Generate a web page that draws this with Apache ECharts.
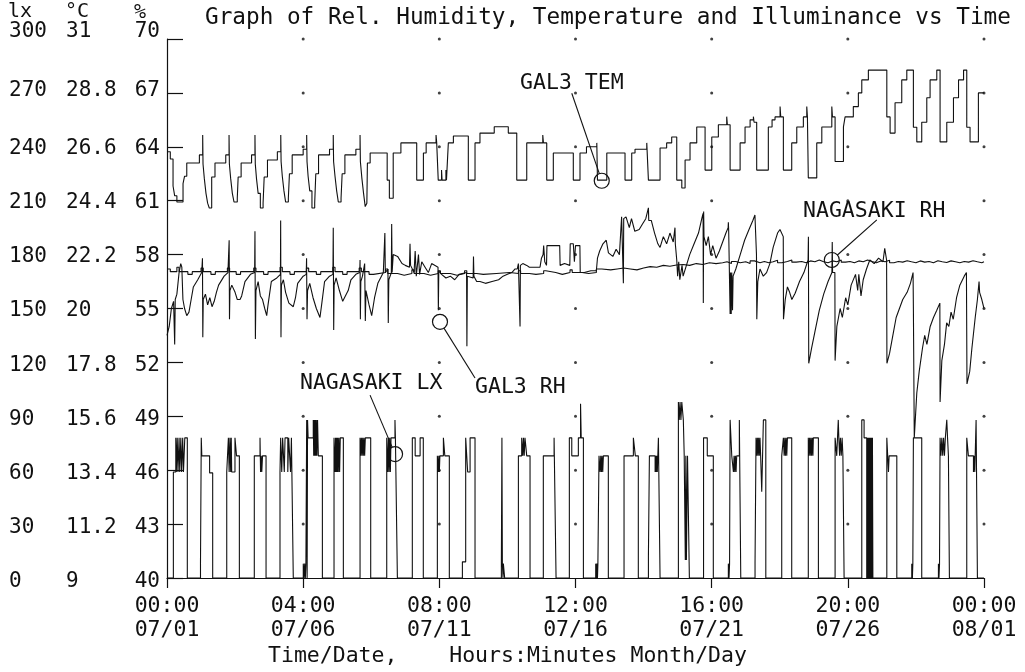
<!DOCTYPE html>
<html><head><meta charset="utf-8">
<script src="https://cdn.jsdelivr.net/npm/echarts@6/dist/echarts.min.js"></script>
<style>html,body{margin:0;padding:0;background:#fff}#c{width:1025px;height:672px}</style>
</head><body><div id="c"></div>
<script>
// ---------- axis ticks / labels ----------
const xTickHours = [0,124,248,372,496,620,744];
const xTickTimes = ['00:00','04:00','08:00','12:00','16:00','20:00','00:00'];
const xTickDates = ['07/01','07/06','07/11','07/16','07/21','07/26','08/01'];
const pctLabels = ['40','43','46','49','52','55','58','61','64','67','70'];
const degLabels = ['9','11.2','13.4','15.6','17.8','20','22.2','24.4','26.6','28.8','31'];
const lxLabels  = ['0','30','60','90','120','150','180','210','240','270','300'];

// ---------- series: [hour since 07/01 00:00, value] ----------
// GAL3 temperature, degC
const galTem = [
[0,26.4],[3,26.1],[5.5,25.0],[7,24.6],[9,24.35],[14.6,25.1],[16,25.4],[18,25.94],
[29.5,26.27],[32.5,27.08],[32.8,25.9],[34,25.3],[35.5,24.7],[37,24.3],[38.5,24.1],[40.7,25.37],[43.7,25.94],
[53.5,26.27],[56.5,27.08],[56.8,25.9],[58,25.3],[59.5,24.7],[61,24.35],[64,24.5],[64.8,25.37],[67.5,25.94],
[77,26.27],[80.1,27.08],[80.4,25.9],[81.5,25.3],[83,24.7],[85,24.1],[87.5,24.3],[88.5,25.37],[91.5,26.06],
[100.5,26.4],[103.6,27.08],[103.9,26.0],[105,25.4],[106.5,24.8],[108,24.35],[110.5,24.5],[111.5,25.5],[114,26.27],
[124,26.5],[127.2,27.08],[127.5,26.0],[128.5,25.4],[130,24.8],[132,24.1],[134.5,24.3],[135.5,25.5],[138,26.27],
[148,26.5],[151.4,27.08],[151.7,26.0],[153,25.4],[154.5,24.8],[156,24.35],[158.5,24.5],[159.5,25.5],[162,26.27],
[172,26.5],[175.8,27.08],[176.1,26.0],[177.5,25.3],[179,24.7],[180.5,24.16],[182,24.3],[182.5,25.94],[185,26.35],
[200.5,25.24],[202.5,24.5],[206,26.35],[213,26.76],
[227.4,25.24],[233.5,26.35],[236,26.76],
[245,27.08],[245.6,26.76],[247,25.24],[250,25.65],[250.5,25.24],[254,25.65],[254.5,25.24],[256.2,26.76],[260.8,27.04],
[274.4,25.24],[280.5,26.76],[285,27.16],
[298,27.42],
[310.8,27.16],[318.5,25.24],[327.6,26.76],
[342.2,27.08],[342.8,26.76],[345.8,25.24],[351.8,26.35],
[370,25.24],[376.1,26.35],[382,26.6],
[391.4,26.76],[392,25.24],[400.5,26.35],
[417.1,25.24],[423.2,26.35],[426.2,26.5],
[436.9,26.76],[438.4,25.24],[449,26.55],[455,26.76],[459.6,27.0],
[464.2,25.24],[468.8,24.92],[471.8,26.06],[476.3,26.76],[482.4,27.41],
[490,25.65],[496.1,27.0],[502.1,27.5],
[509.7,27.83],[510.3,27.5],[512.8,25.65],[521.9,26.76],[526.4,27.41],[531,27.7],
[534,27.83],[534.6,27.6],[537,25.65],[547.6,27.41],[551,27.7],
[553.7,27.82],[558.3,28.24],[558.9,27.82],[561.3,25.65],[568.9,26.76],[573.5,27.41],[579.5,27.82],
[582.6,28.24],[583.2,27.82],[584,25.33],[591.7,26.76],[596.3,27.41],[605.4,28.24],
[606,27.82],[608.4,26.0],[616,27.41],[617.5,27.82],[625,28.24],[629.6,28.8],[632.7,29.33],[638.7,29.73],
[655.5,27.82],[658.5,27.16],[663,28.4],[669.1,29.33],[673.7,29.73],
[679.7,27.4],[682.8,26.8],[687.3,27.6],[691.9,28.6],[694.9,29.33],[701,29.73],
[704,26.8],[710.1,27.6],[716.2,28.6],[720.8,29.33],[725.4,29.73],
[728.3,27.4],[731.3,26.8],[738.9,28.8],[744,28.8]
];

// GAL3 relative humidity, %
const galRh = [
[0,53.5],[2,54.0],[4,55.0],[6,55.4],[7,53.0],[7.5,55.5],[9,55.8],[11,57.0],[12.5,57.5],[13.5,57.3],[14.5,55.5],[16,55.0],[18,54.6],[20,54.8],[22,55.5],
[24,56.2],[28,56.6],[31.6,57.0],[32.3,57.8],[32.6,53.4],[33,55.5],[35,55.8],[37,55.2],[39,55.6],[41,55.1],[43,55.4],[45,55.9],[47,56.3],
[52,56.8],[55.5,57.0],[56.6,58.8],[56.9,54.4],[57.3,56.0],[59,56.3],[62,55.9],[64,55.5],[66.5,55.5],[68,55.7],[71,56.5],
[76,56.9],[79.8,57.0],[80.1,59.3],[80.5,53.3],[81,56.0],[83,56.5],[85,55.7],[87,55.5],[89,55.0],[90.8,54.6],[92,55.2],[95,56.5],
[100,56.7],[103.3,56.9],[103.5,59.9],[103.8,53.4],[104.2,56.3],[106,56.6],[108,55.9],[111,55.3],[115,55.1],[117,55.6],[119,56.4],
[124,56.8],[126.8,56.9],[127.1,57.8],[127.5,54.4],[128,56.0],[130,56.4],[133,55.6],[136,55.0],[139.3,54.5],[141,55.3],[143.5,56.5],
[148,56.8],[151.1,56.9],[151.4,59.5],[151.8,53.8],[152.2,56.3],[154,56.7],[157,56.0],[160,55.4],[163.7,55.85],[165,56.0],[167.5,56.6],
[172,56.9],[175.5,57.0],[175.8,57.7],[176.1,54.4],[176.5,56.5],[178,56.8],[180,57.5],[180.6,54.3],[181.2,56.0],[184,55.2],[186.4,54.6],[189,55.6],[192,56.4],
[197,57.0],[198.4,59.2],[198.8,57.0],[201.2,57.2],[201.5,54.2],[202,56.6],[204.3,57.0],[204.6,59.7],[205,57.0],[206,58.0],[210,57.9],[214,57.5],[217,57.4],
[220.8,57.3],[221.3,58.6],[221.8,57.4],[225,57.0],[226,58.2],[227,56.8],[229,58.0],[230,56.9],[232,57.6],[235,57.3],[238,57.0],[241,57.5],
[246.8,57.3],[247.1,54.9],[247.5,57.1],[250,56.9],[254,56.7],[258,56.8],[262,56.6],
[266,56.9],[272.8,57.0],[273.1,52.9],[273.5,56.8],[278.8,56.7],[279.1,57.9],[279.5,56.8],[282,56.5],
[285,56.5],[290,56.4],[296,56.5],[302,56.6],[306,56.8],[310,56.9],[314,57.0],[317,57.2],
[319,57.2],[320,57.5],[321.3,57.5],[321.5,54.0],[321.8,57.4],[324,57.5],[327.6,57.4],[330,57.3],[336,57.3],
[339.7,57.3],[341,57.8],[342.5,58.0],[343,58.5],[344,57.6],[345.6,57.4],[346,58.5],[357.6,58.5],[358,57.4],[362,57.5],
[366.8,57.4],[367.2,58.6],[370,58.6],[371,57.6],[372,58.5],[376,58.5],[376.3,57.0],[380,57.0],[386,57.1],
[391,57.1],[392,57.8],[394,58.2],[397,58.6],[400,58.8],[402,58.1],[406,57.9],[409,58.3],[412,58.0],[414,60.1],[415.3,60.0],[415.6,56.4],[415.9,60.0],
[418,60.1],[421,59.5],[423,60.0],[426,59.3],[430,59.4],[433,59.7],[436,60.0],[438.4,60.6],[438.7,59.9],
[441,59.9],[444,59.2],[447,58.6],[449,58.4],[452,59.0],[455,58.6],[458,59.2],[461,58.7],[462.6,59.5],[462.9,58.6],
[464.2,57.7],[465,56.8],[466,57.6],[467,56.6],[469,57.4],[470,56.8],[473,57.4],[476,58.0],[480,58.6],[484,59.2],[487,60.0],[488.2,60.3],
[488.4,55.3],[488.7,60.4],[489,59.0],[491,58.5],[493,59.0],[495,58.0],[497,58.5],[500,57.8],[503,58.2],[506,58.7],[509,59.2],[511,59.5],[511.2,59.8],[511.5,59.3],[512.8,54.7],[513.2,57.0],[513.8,54.7],[514.3,57.0],[515,54.9],[515.5,56.8],
[518,57.2],[522,58.0],[526,58.8],[530,59.4],[533.5,59.9],[535.4,60.2],[536.8,58.0],[537.1,54.4],[538,56.5],[540,57.2],[543,56.8],[546,57.0],
[549,57.5],[552,58.4],[556,59.2],
[558.2,59.4],[561.2,59.0],[561.4,54.4],[563,55.5],[565,56.2],[567,55.9],[569,55.5],[572,55.85],[576,56.5],[580,57.0],[583.8,57.7],
[584.1,59.0],[584.4,51.95],[587,52.8],[590,53.7],[594,54.9],[598,55.8],[602,56.5],[605.5,57.0],
[605.8,58.7],[606.1,57.0],[608.2,57.0],[608.4,52.1],[610,54.0],[613,55.0],[615,54.5],[618,55.6],[620,55.2],[623,56.3],[627,56.9],
[629,56.0],[630,56.9],[632,55.7],[634,56.6],[637,57.2],[640,57.7],[644,57.5],[648,57.8],[652,57.6],[653.6,58.35],[655.3,57.7],
[655.6,51.95],[658,52.5],[661,53.5],[664,54.5],[667,55.0],[670,55.5],[674,55.9],[677,56.4],[679.4,57.0],
[679.7,55.0],[680.5,47.8],[682.8,50.3],[685,51.5],[688,52.8],[690,53.5],[692,53.0],[695,54.0],[698,54.5],[701,54.9],[703.8,55.3],
[704,49.8],[705.6,52.1],[708,53.0],[710,54.2],[712,54.0],[714,54.8],[716,54.4],[719,55.6],[722,56.3],[726,56.8],[728,57.0],
[728.5,50.8],[731,51.5],[733,52.8],[736,54.5],[738,55.5],[739.5,56.5],[740,55.9],[742,55.5],[744,55.0]
];

// NAGASAKI relative humidity, %
const nagRh = [
[0,57.2],[3,57.05],[9,57.3],[11,57.05],[19,56.9],[23,57.05],
[31,57.25],[33,57.05],[40,56.9],[44,57.05],
[55,57.25],[57,57.05],[63,56.9],[67,57.05],
[79,57.25],[81,57.05],[88,56.9],[92,57.05],
[103,57.3],[105,57.05],[112,56.9],[116,57.05],
[127,57.25],[129,57.05],[136,56.9],[140,57.05],
[151,57.3],[153,57.05],[160,56.9],[164,57.05],
[175,57.25],[177,57.05],[184,56.9],[188,57.0],
[199,57.2],[201,56.95],[210,56.85],[216,56.95],
[223,57.15],[225,56.95],[234,56.85],[240,56.95],
[247,57.1],[249,56.95],[258,56.85],[264,56.95],
[271,57.1],[273,56.95],[282,56.9],[288,56.95],
[300,57.0],[312,56.95],[320,57.1],[322,56.95],[330,56.9],[336,56.95],
[343,57.1],[345,57.0],[354,56.9],[360,57.0],
[367,57.15],[369,57.0],[378,56.95],[384,57.0],
[391,57.2],[396,57.15],[404,57.2],[410,57.25],[416,57.2],[422,57.15],[428,57.25],[434,57.33],[440,57.3],[446,57.4],[452,57.35],[458,57.42],[464,57.45],[470,57.4],[476,57.5],[482,57.45],[488,57.55],[494,57.5],[500,57.55],[506,57.6],[510,57.5],[514,57.62],[518,57.55],[522,57.6],[527,57.5],[531,57.65],[535,57.55],[540,57.62],[544,57.55],[548,57.6],[552,57.68],[556,57.55],[560,57.62],[565,57.7],[569,57.58],[573,57.62],[578,57.55],[582,57.65],[586,57.6],[590,57.7],[594,57.6],[598,57.55],[602,57.65],[606,57.6],[610,57.7],[614,57.58],[618,57.62],[622,57.55],[626,57.65],[630,57.6],[634,57.7],[638,57.62],[642,57.55],[646,57.65],[650,57.6],[654,57.68],[658,57.55],[662,57.62],[666,57.58],[670,57.66],[674,57.6],[678,57.55],[682,57.65],[686,57.58],[690,57.62],[694,57.55],[698,57.66],[702,57.6],[706,57.56],[710,57.65],[714,57.6],[718,57.55],[722,57.62],[726,57.58],[730,57.66],[734,57.6],[738,57.55],[742,57.6],[744,57.6]
];

// NAGASAKI illuminance, lx
const nagLx = [
[0,0],[5.8,59],[8,78],[8.5,59],[9.3,78],[10,59],[11,78],[11.6,59],[12.6,78],[13.3,59],[14.3,78],[15,59],[16.2,78],[18.5,0],
[30.5,8],[31.2,78],[31.7,68],[38.8,58.5],[41.6,0],
[54.4,59],[55.9,78],[56.6,59],[57.3,78],[58,59],[58.5,78],[58.9,59],[61.9,78],[63.3,68],[65.9,0],
[79.5,68],[84.7,78],[85.2,59],[85.8,68],[86.3,59],[87,68],[90.2,0],
[102.9,59],[103.5,78],[104.5,59],[105.3,78],[106.8,59],[107.5,78],[110,59],[110.8,78],[112.5,59],[113.3,78],[115,0],
[124.1,8],[124.8,0],[125.4,8],[126,0],[126.5,8],[127.2,88],[127.6,0],[128,88],[128.5,78],[133.2,88],[133.6,68],[134,88],[134.5,68],[135,88],[135.5,68],[136,88],[136.5,68],[137.1,88],[137.8,68],[141.5,0],
[152.1,78],[153,59],[153.5,78],[154,59],[154.5,78],[155,59],[155.5,78],[156,59],[156.6,78],[157.2,59],[157.8,78],[160.6,0],
[175.8,78],[176.4,68],[177,78],[177.6,68],[178.2,78],[178.8,68],[179.4,78],[180,68],[180.6,78],[185.5,0],
[200.1,78],[201,59],[201.6,78],[202.2,59],[202.8,78],[203.4,59],[204,78],[207.6,88],[208,78],[209.8,0],
[223.4,78],[226,68],[230.5,78],[233.4,0],
[246.2,68],[247,59],[247.5,68],[248,59],[248.5,68],[251.7,78],[253,68],[257.1,0],
[269,9],[272,78],[273.8,59],[276,78],[280.5,0],
[304.5,8],[305,78],[305.4,8],[306,0],[306.3,8],[307.5,0],
[320,68],[323,78],[324,68],[324.6,78],[325.3,68],[326,78],[327.6,68],[330.6,0],
[342.7,68],[352.5,78],[354.3,0],
[366.4,78],[368.6,68],[374.6,78],[376.6,97],[377.2,78],[379.2,0],
[390.4,8],[391,0],[391.5,8],[392,0],[392.4,8],[393.4,68],[394.4,59],[395,68],[395.6,59],[396.2,68],[396.8,59],[397.4,68],[401.9,0],
[416.2,68],[424.7,78],[426.5,68],[429.2,0],
[438.4,12],[439.3,68],[444.5,59],[445,68],[445.5,59],[446,68],[446.5,59],[447.5,78],[449,0],
[465.7,98],[466.5,88],[467.2,98],[468,88],[468.8,98],[470.2,88],[471,68],[472,10],[472.5,68],[473,10],[474,68],[475.7,0],
[488.6,78],[492,68],[497.5,0],
[511.2,8],[511.8,0],[512.3,8],[512.8,88],[514.3,68],[515.8,59],[516.4,68],[517,59],[517.6,68],[518.2,59],[518.8,68],[521.2,88],[522.5,0],
[535.5,8],[536.4,78],[537,68],[537.6,78],[538.2,68],[538.8,78],[539.4,68],[540,78],[540.6,68],[541.6,48],[543.1,88],[545.3,0],
[559.8,68],[561.3,78],[562,68],[562.6,78],[563.2,68],[563.8,78],[564.4,68],[565,78],[568.9,0],
[584,78],[584.6,68],[585.2,78],[585.8,68],[586.4,78],[587,68],[587.6,78],[588.2,68],[588.6,78],[593.2,0],
[608.4,78],[609.9,68],[610.6,78],[611.3,88],[611.8,78],[612.5,68],[613.2,78],[614,68],[614.8,78],[615.5,68],[616.6,0],
[632.7,88],[634.8,78],[637.2,0],[637.6,78],[638,0],[638.4,78],[638.8,0],[639.2,78],[639.6,0],[640,78],[640.4,0],[640.8,78],[641.2,0],[641.6,78],[642,0],[642.4,78],[642.8,0],
[655.5,78],[657,59],[657.6,68],[664.6,0],
[678.2,8],[678.8,0],[679.2,8],[679.7,78],[687.3,0],
[702.5,8],[703,0],[703.5,8],[704,78],[704.8,68],[705.6,78],[706.4,68],[707.2,78],[708,68],[708.8,78],[710.1,88],[710.8,78],[711.6,68],[712.5,0],
[728.3,78],[729.8,68],[734.4,59],[735,68],[735.6,59],[736.8,88],[738,0],[744,0]
];

// ---------- annotations (label text, anchors in [hour, %]) ----------
const annotText   = ['GAL3 TEM','NAGASAKI RH','GAL3 RH','NAGASAKI LX'];
const annotTextAt = [[321.5,67.5],[579.2,60.43],[280.5,50.63],[121.1,50.85]];
const annotLineAt = [[368.6,66.98],[646.4,59.93],[280.5,51.13],[184.9,50.18]];
const annotRingAt = [[395.9,62.11],[605.4,57.70],[248.6,54.26],[207.7,46.9]];

// ---------- chart ----------
const FONT = '"DejaVu Sans Mono","Liberation Mono",monospace';
const INK = '#111';
const chart = echarts.init(document.getElementById('c'), null, {renderer:'canvas'});

const dots = [];
for (let i = 1; i < xTickHours.length; i++)
  for (let j = 1; j < pctLabels.length; j++) dots.push([xTickHours[i], j]);

const lineBase = {type:'line', xAxisIndex:0, showSymbol:false, symbol:'none', silent:true,
  lineStyle:{color:INK, width:1.1}, emphasis:{disabled:true}};
const labStyle = {fontFamily:FONT, fontSize:21, color:INK};
const labelAxis = (data, offset, align, margin) => ({
  type:'category', gridIndex:1, position:'left', offset:offset, data:data, boundaryGap:false,
  axisLine:{show:false}, axisTick:{show:false}, splitLine:{show:false},
  axisLabel:{interval:0, align:align, margin:margin, fontFamily:FONT, fontSize:21, color:INK,
    formatter:function(v, i){ return i === data.length - 1 ? '{t|' + v + '}' : (i === data.length - 2 ? '{u|' + v + '}' : v); },
    rich:{t:Object.assign({padding:[0,0,16,0]}, labStyle), u:Object.assign({padding:[0,0,8,0]}, labStyle)}}
});

chart.setOption({
  animation:false,
  backgroundColor:'#fff',
  grid:[
    {left:167, top:39, width:817, height:539, outerBoundsMode:'none', containLabel:false},
    {left:167, top:40, width:10, height:542, outerBoundsMode:'none', containLabel:false}
  ],
  xAxis:[
    {type:'value', gridIndex:0, min:0, max:744, interval:124,
     axisLine:{show:true, lineStyle:{color:INK, width:1.2}},
     axisTick:{show:true, length:10, lineStyle:{color:INK, width:1.2}},
     splitLine:{show:false},
     axisLabel:{formatter:function(v){const i = xTickHours.indexOf(v); return i < 0 ? '' : xTickTimes[i] + '\n' + xTickDates[i];},
       fontFamily:FONT, fontSize:21.5, lineHeight:24, color:INK, margin:16, showMinLabel:true, showMaxLabel:true}},
    {type:'value', gridIndex:1, min:0, max:1, show:false}
  ],
  yAxis:[
    {type:'value', gridIndex:0, min:0, max:10, interval:1,
     axisLine:{show:true, lineStyle:{color:INK, width:1.2}},
     axisTick:{show:true, inside:true, length:16, lineStyle:{color:INK, width:1.2}},
     axisLabel:{show:false}, splitLine:{show:false}},
    {type:'value', gridIndex:0, min:40, max:70, show:false},
    {type:'value', gridIndex:0, min:9, max:31, show:false},
    {type:'value', gridIndex:0, min:0, max:300, show:false},
    labelAxis(pctLabels, 0, 'right', 7),
    labelAxis(degLabels, 101, 'left', 0),
    labelAxis(lxLabels, 158, 'left', 0)
  ],
  series:[
    {type:'scatter', xAxisIndex:0, yAxisIndex:0, data:dots, symbol:'circle', symbolSize:3,
     itemStyle:{color:INK}, silent:true, z:1},
    Object.assign({}, lineBase, {name:'NAGASAKI LX', yAxisIndex:3, data:nagLx, step:'end', z:2}),
    Object.assign({}, lineBase, {name:'NAGASAKI RH', yAxisIndex:1, data:nagRh, step:'end', z:3}),
    Object.assign({}, lineBase, {name:'GAL3 RH', yAxisIndex:1, data:galRh, z:4}),
    Object.assign({}, lineBase, {name:'GAL3 TEM', yAxisIndex:2, data:galTem, step:'end', z:5})
  ]
});

function px(p){ return chart.convertToPixel({xAxisIndex:0, yAxisIndex:1}, p); }
const R = 7.5;
const gfx = [
  {type:'text', style:{text:'Graph of Rel. Humidity, Temperature and Illuminance vs Time', x:205, y:18,
    font:'22.7px ' + FONT, fill:INK, textVerticalAlign:'middle', verticalAlign:'middle'}},
  {type:'text', style:{text:'lx', x:8, y:12, font:'20px ' + FONT, fill:INK, textVerticalAlign:'middle', verticalAlign:'middle'}},
  {type:'text', style:{text:'°C', x:65, y:12, font:'20px ' + FONT, fill:INK, textVerticalAlign:'middle', verticalAlign:'middle'}},
  {type:'text', style:{text:'%', x:134, y:13, font:'20px ' + FONT, fill:INK, textVerticalAlign:'middle', verticalAlign:'middle'}},
  {type:'text', style:{text:'Time/Date,    Hours:Minutes Month/Day', x:268, y:656,
    font:'21.5px ' + FONT, fill:INK, textVerticalAlign:'middle', verticalAlign:'middle'}}
];
for (let k = 0; k < annotText.length; k++) {
  const t = px(annotTextAt[k]), a = px(annotLineAt[k]), c = px(annotRingAt[k]);
  const dx = c[0] - a[0], dy = c[1] - a[1], d = Math.sqrt(dx*dx + dy*dy);
  gfx.push({type:'text', z:10, style:{text:annotText[k], x:t[0], y:t[1], font:'21.5px ' + FONT, fill:INK,
    textVerticalAlign:'middle', verticalAlign:'middle'}});
  gfx.push({type:'circle', z:10, shape:{cx:c[0], cy:c[1], r:R}, style:{fill:'rgba(0,0,0,0)', stroke:INK, lineWidth:1.2}});
  gfx.push({type:'line', z:10, shape:{x1:a[0], y1:a[1], x2:c[0] - dx/d*R, y2:c[1] - dy/d*R}, style:{stroke:INK, lineWidth:1.1}});
}
chart.setOption({graphic:gfx});
</script>
</body></html>
